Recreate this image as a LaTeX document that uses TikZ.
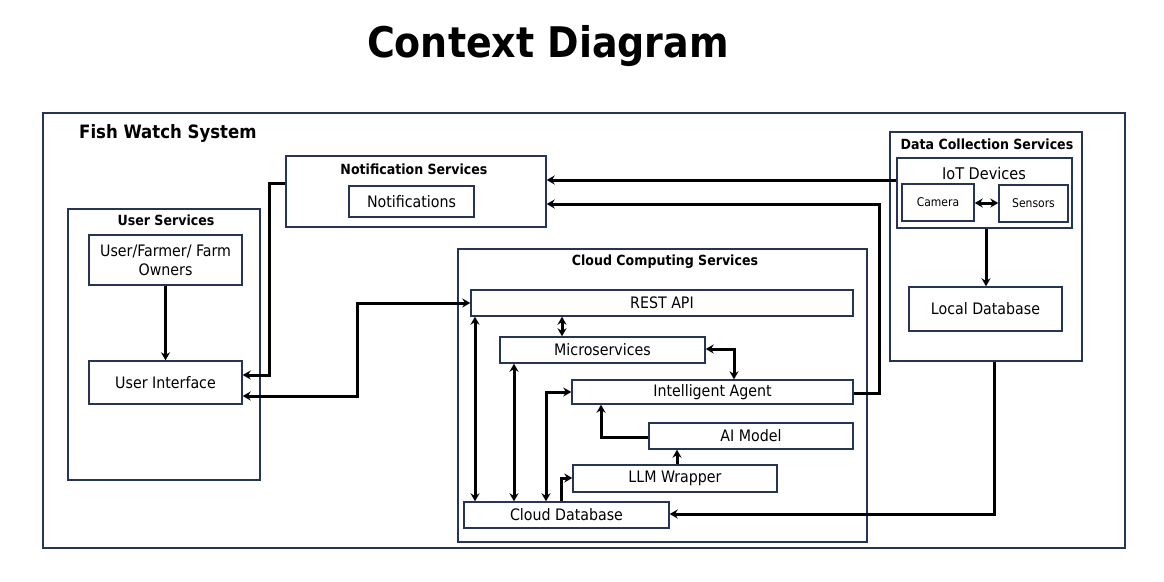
\documentclass[tikz,border=0pt]{standalone}
\usepackage{fontspec}
\setmainfont{DejaVu Sans Condensed}
\usetikzlibrary{arrows.meta}
\definecolor{navy}{RGB}{38,52,88}
\tikzset{
	box/.style={draw=navy,line width=1.4pt,inner sep=0pt,align=center,font=\fontsize{15.8}{19}\selectfont},
	hdr/.style={font=\bfseries\fontsize{14}{16}\selectfont},
	arr/.style={line width=3pt,-{Stealth[length=8pt,width=9pt]}},
	biarr/.style={line width=3pt,{Stealth[length=8pt,width=9pt]}-{Stealth[length=8pt,width=9pt]}}
}
\begin{document}
\begin{tikzpicture}[x=1pt,y=-1pt]
			\useasboundingbox (0,0) rectangle (1164,581);
			\node[font=\bfseries\fontsize{42.2}{48}\selectfont] (title) at (548,46) {Context Diagram};
			% containers
			\node[box,minimum width=1082pt,minimum height=435pt] (sys) at (584,330.5) {};
			\node[anchor=west,inner sep=0pt,font=\bfseries\fontsize{18.4}{21}\selectfont] (syslbl) at (79,133) {Fish Watch System};
			\node[box,minimum width=192pt,minimum height=271pt] (us) at (164,344.5) {};
			\node[hdr] (uslbl) at (166,220) {User Services};
			\node[box,minimum width=260pt,minimum height=71pt] (ns) at (416,191.5) {};
			\node[hdr] (nslbl) at (414,169) {Notification Services};
			\node[box,minimum width=409pt,minimum height=293pt] (ccs) at (662.5,395.5) {};
			\node[hdr] (ccslbl) at (665,262) {Cloud Computing Services};
			\node[box,minimum width=192pt,minimum height=229pt] (dcs) at (986,246.5) {};
			\node[hdr] (dcslbl) at (987,144) {Data Collection Services};
			\node[box,minimum width=175pt,minimum height=70pt] (iot) at (984.5,193) {};
			\node[font=\fontsize{16.1}{19}\selectfont] (iotlbl) at (984,173) {IoT Devices};
			% boxes
			\node[box,minimum width=153pt,minimum height=50pt] (uf) at (165.5,260) {User/Farmer/ Farm\\Owners};
			\node[box,minimum width=153pt,minimum height=43pt] (ui) at (165.5,382.5) {User Interface};
			\node[box,minimum width=125pt,minimum height=31pt] (nt) at (411.5,201.5) {Notifications};
			\node[box,minimum width=382pt,minimum height=26pt] (rest) at (662,303) {REST API};
			\node[box,minimum width=205pt,minimum height=26pt] (ms) at (602.5,350) {Microservices};
			\node[box,minimum width=281pt,minimum height=24pt] (ia) at (712.5,392) {Intelligent Agent};
			\node[box,minimum width=204pt,minimum height=26pt] (aim) at (751,436) {AI Model};
			\node[box,minimum width=204pt,minimum height=27pt] (llm) at (675,478.5) {LLM Wrapper};
			\node[box,minimum width=205pt,minimum height=26pt] (cdb) at (566.5,515) {Cloud Database};
			\node[box,minimum width=72pt,minimum height=37pt,font=\fontsize{12}{14}\selectfont] (cam) at (938,202.5) {Camera};
			\node[box,minimum width=69pt,minimum height=37pt,font=\fontsize{12}{14}\selectfont] (sen) at (1033.5,203.5) {Sensors};
			\node[box,minimum width=153pt,minimum height=44pt] (ldb) at (985.5,309) {Local Database};
			% connectors
			\draw[arr] (uf.south) -- (ui.north);
			\draw[arr] (ns.west|-0,183) -- (269,183) -- (269,375) -- (ui.east|-0,375);
			\draw[biarr] (ui.east|-0,396) -- (357,396) -- (357,303) -- (rest.west|-0,303);
			\draw[biarr] (rest.south-|562,0) -- (ms.north-|562,0);
			\draw[biarr] (ms.east|-0,349) -- (734,349) -- (ia.north-|734,0);
			\draw[biarr] (rest.south-|475,0) -- (cdb.north-|475,0);
			\draw[biarr] (ms.south-|514,0) -- (cdb.north-|514,0);
			\draw[biarr] (cdb.north-|546,0) -- (546,392) -- (ia.west|-0,392);
			\draw[arr] (aim.west|-0,437) -- (601,437) -- (ia.south-|601,0);
			\draw[arr] (llm.north-|677,0) -- (aim.south-|677,0);
			\draw[arr] (cdb.north-|561,0) -- (561,478) -- (llm.west|-0,478);
			\draw[arr] (ia.east|-0,393) -- (879,393) -- (879,204) -- (ns.east|-0,204);
			\draw[arr] (iot.west|-0,180) -- (ns.east|-0,180);
			\draw[arr] (dcs.south-|994,0) -- (994,514) -- (cdb.east|-0,514);
			\draw[biarr] (cam.east|-0,203) -- (sen.west|-0,203);
			\draw[arr] (iot.south-|986,0) -- (ldb.north-|986,0);
		\end{tikzpicture}
\end{document}
